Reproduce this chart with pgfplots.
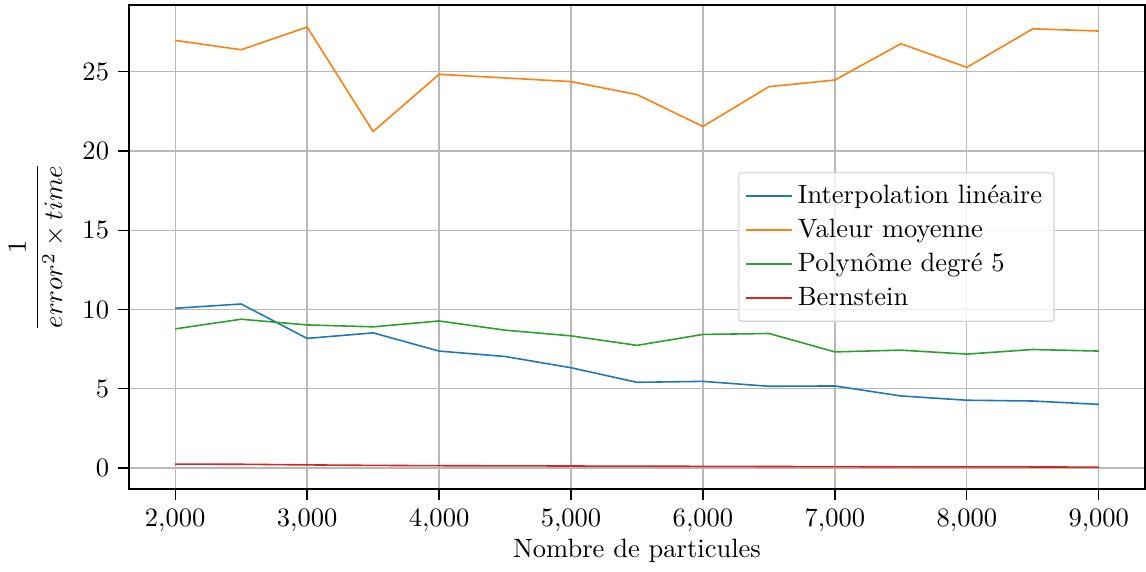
\documentclass[border=0pt]{standalone}
\usepackage{pgfplots}
\pgfplotsset{compat=1.18}
\usepackage{amsmath}
\definecolor{tabblue}{HTML}{1F77B4}
\definecolor{taborange}{HTML}{FF7F0E}
\definecolor{tabgreen}{HTML}{2CA02C}
\definecolor{tabred}{HTML}{D62728}
\begin{document}
\begin{tikzpicture}
\begin{axis}[
  scale only axis,
  width=383pt, height=182.5pt,
  xmin=1650, xmax=9350,
  ymin=-1.33, ymax=29.21,
  xtick={2000,3000,...,9000},
  ytick={0,5,...,25},
  tick align=outside,
  tick pos=left,
  major tick length=4pt,
  tick style={black, line width=0.5pt},
  grid=major,
  major grid style={line width=0.5pt, gray!55},
  axis line style={black, line width=0.6pt},
  xlabel={Nombre de particules},
  ylabel={$\dfrac{1}{error^2\times time}$},
  xlabel style={yshift=4pt},
  legend style={at={(0.911,0.5)}, anchor=east, draw=gray!35, fill=white, fill opacity=0.8, draw opacity=1, text opacity=1, rounded corners=1pt, row sep=0.4pt, inner sep=2.5pt},
  legend image post style={line width=0.7pt, opacity=1},
  legend cell align=left,
  every axis plot/.append style={line width=0.6pt, mark=none},
]
\addplot[tabblue] coordinates {
(2000,10.08) (2500,10.35) (3000,8.18) (3500,8.53) (4000,7.38) (4500,7.04) (5000,6.33) (5500,5.41) (6000,5.47) (6500,5.16) (7000,5.18) (7500,4.55) (8000,4.28) (8500,4.23) (9000,4.02)};
\addlegendentry{Interpolation linéaire}
\addplot[taborange] coordinates {
(2000,26.98) (2500,26.39) (3000,27.82) (3500,21.23) (4000,24.84) (4500,24.61) (5000,24.38) (5500,23.56) (6000,21.55) (6500,24.06) (7000,24.48) (7500,26.77) (8000,25.28) (8500,27.71) (9000,27.57)};
\addlegendentry{Valeur moyenne}
\addplot[tabgreen] coordinates {
(2000,8.78) (2500,9.39) (3000,9.03) (3500,8.91) (4000,9.28) (4500,8.70) (5000,8.34) (5500,7.74) (6000,8.43) (6500,8.49) (7000,7.33) (7500,7.44) (8000,7.19) (8500,7.48) (9000,7.38)};
\addlegendentry{Polynôme degré 5}
\addplot[tabred] coordinates {
(2000,0.25) (2500,0.24) (3000,0.20) (3500,0.17) (4000,0.15) (4500,0.14) (5000,0.13) (5500,0.12) (6000,0.11) (6500,0.10) (7000,0.09) (7500,0.08) (8000,0.08) (8500,0.07) (9000,0.06)};
\addlegendentry{Bernstein}
\end{axis}
\path (current axis.north east) ++(0.4pt,1.9pt) coordinate (tr);
\path (tr) (current axis.south west);
\end{tikzpicture}
\end{document}
